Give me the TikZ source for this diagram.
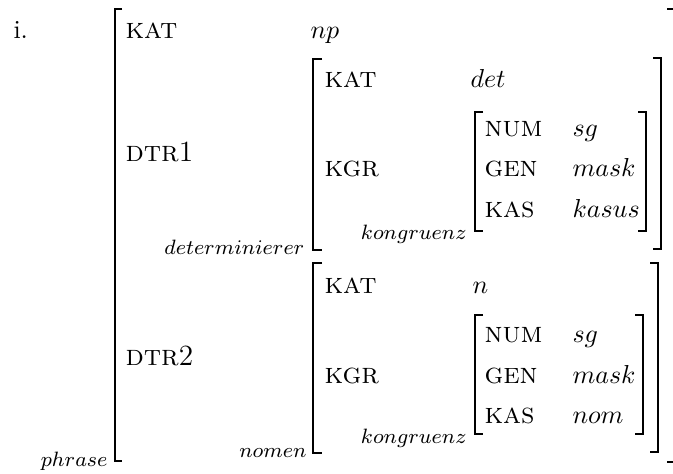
\documentclass[tikz,border=0pt]{standalone}
\begin{document}
\begin{tikzpicture}[x=0.385pt,y=-0.385pt,
  lbl/.style={inner sep=0pt,anchor=base west},
  attr/.style={inner sep=0pt,anchor=base west,font=\fontsize{11.3}{13}\selectfont},
  tag/.style={inner sep=0pt,anchor=base east,font=\fontsize{7.6}{9}\selectfont},
  brk/.style={line width=0.7pt,line cap=butt,line join=miter}]
\useasboundingbox (0,0) rectangle (673,473);
% example number
\node[lbl] (num) at (13,39) {i.};
% outer matrix
\draw[brk] (122,9) -- (115,9) -- (115,461) -- (122,461);
\draw[brk] (667,9) -- (677,9) -- (677,462) -- (667,462);
\node[tag] (tphrase) at (108,466) {$phrase$};
\node[attr] (kat0) at (125,39) {\textsc{kat}};
\node[lbl] (np) at (310,39) {$np$};
\node[attr] (dtr1) at (125,162) {\textsc{dtr}1};
\node[attr] (dtr2) at (125,365) {\textsc{dtr}2};
% determinierer matrix
\draw[brk] (322,59) -- (313,59) -- (313,250) -- (322,250);
\draw[brk] (653,58) -- (661,58) -- (661,249) -- (653,249);
\node[tag] (tdet) at (305,254) {$determinierer$};
\node[attr] (kat1) at (324,88) {\textsc{kat}};
\node[lbl] (vdet) at (470,88) {$det$};
\node[attr] (kgr1) at (324,177) {\textsc{kgr}};
% kongruenz 1
\draw[brk] (483,112) -- (475,112) -- (475,231) -- (483,231);
\draw[brk] (638,112) -- (646,112) -- (646,231) -- (638,231);
\node[tag] (tkon1) at (467,239) {$kongruenz$};
\node[attr] (num1) at (484,137) {\textsc{num}};
\node[lbl] (vsg1) at (572,137) {$sg$};
\node[attr] (gen1) at (484,177) {\textsc{gen}};
\node[lbl] (vmask1) at (572,177) {$mask$};
\node[attr] (kas1) at (484,218) {\textsc{kas}};
\node[lbl] (vkasus) at (572,218) {$kasus$};
% nomen matrix
\draw[brk] (322,263) -- (313,263) -- (313,453) -- (322,453);
\draw[brk] (650,263) -- (658,263) -- (658,452) -- (650,452);
\node[tag] (tnom) at (307,457) {$nomen$};
\node[attr] (kat2) at (324,293) {\textsc{kat}};
\node[lbl] (vn) at (472,293) {$n$};
\node[attr] (kgr2) at (324,383) {\textsc{kgr}};
% kongruenz 2
\draw[brk] (483,315) -- (475,315) -- (475,434) -- (483,434);
\draw[brk] (635,315) -- (643,315) -- (643,434) -- (635,434);
\node[tag] (tkon2) at (467,443) {$kongruenz$};
\node[attr] (num2) at (484,342) {\textsc{num}};
\node[lbl] (vsg2) at (572,342) {$sg$};
\node[attr] (gen2) at (484,383) {\textsc{gen}};
\node[lbl] (vmask2) at (572,383) {$mask$};
\node[attr] (kas2) at (484,423) {\textsc{kas}};
\node[lbl] (vnom) at (572,423) {$nom$};
\end{tikzpicture}
\end{document}
